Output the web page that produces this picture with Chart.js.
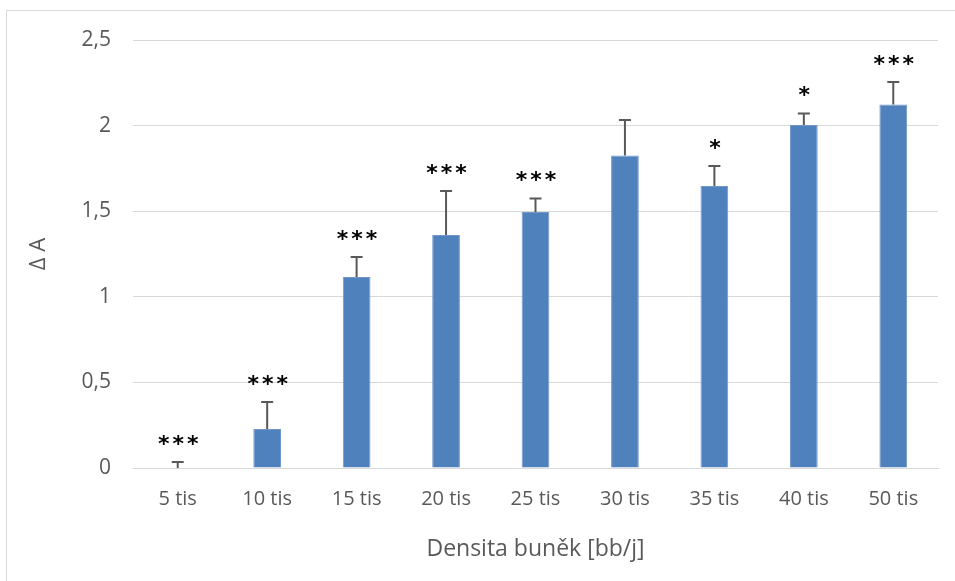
<!DOCTYPE html>
<html>
<head>
<meta charset="utf-8">
<script src="https://cdn.jsdelivr.net/npm/chart.js@4"></script>
<style>
  html, body { margin: 0; padding: 0; background: #fff; overflow: hidden; }
  #wrap { position: relative; width: 955px; height: 581px; }
  #frame { position: absolute; left: 6px; top: 10px; width: 1000px; height: 700px; border: 1px solid #d9d9d9; }
  canvas { position: absolute; left: 0; top: 0; }
</style>
</head>
<body>
<div id="wrap">
  <div id="frame"></div>
  <canvas id="myChart" width="955" height="581"></canvas>
</div>
<script>
const labels = ["5 tis", "10 tis", "15 tis", "20 tis", "25 tis", "30 tis", "35 tis", "40 tis", "50 tis"];
const means = [0.0, 0.228, 1.116, 1.361, 1.495, 1.825, 1.647, 2.003, 2.123];
const errors = [0.035, 0.158, 0.117, 0.257, 0.079, 0.208, 0.117, 0.068, 0.131];
const stars = ["***", "***", "***", "***", "***", "", "*", "*", "***"];
const yTicks = [0, 0.5, 1, 1.5, 2, 2.5];

const FONT = "'Open Sans', sans-serif";

// error bars (upper only) + significance stars
const errorStars = {
  id: "errorStars",
  afterDatasetsDraw(chart) {
    const ctx = chart.ctx;
    const y = chart.scales.y;
    const meta = chart.getDatasetMeta(0);
    ctx.save();
    meta.data.forEach((bar, i) => {
      const top = y.getPixelForValue(means[i] + errors[i]);
      const base = y.getPixelForValue(means[i]);
      ctx.strokeStyle = "#595959";
      ctx.lineWidth = 2;
      ctx.beginPath();
      ctx.moveTo(bar.x, base);
      ctx.lineTo(bar.x, top);
      ctx.moveTo(bar.x - 6, top);
      ctx.lineTo(bar.x + 6, top);
      ctx.stroke();
      if (stars[i]) {
        ctx.fillStyle = "#000";
        ctx.font = "bold 22px 'DejaVu Sans', sans-serif";
        ctx.letterSpacing = "3px";
        ctx.textAlign = "center";
        ctx.textBaseline = "middle";
        ctx.fillText(stars[i], bar.x + 2, top - 17);
      }
    });
    ctx.restore();
  }
};

new Chart(document.getElementById("myChart"), {
  type: "bar",
  data: {
    labels: labels,
    datasets: [{
      data: means,
      backgroundColor: "#4f81bd",
      borderColor: "#7397c9",
      borderWidth: 1,
      barPercentage: 0.31,
      categoryPercentage: 1.0
    }]
  },
  options: {
    responsive: false,
    animation: false,
    layout: { padding: { top: 40, right: 17, left: 0, bottom: 0 } },
    plugins: { legend: { display: false }, tooltip: { enabled: false } },
    scales: {
      x: {
        grid: { display: false, drawTicks: false },
        border: { color: "#d9d9d9", width: 1 },
        ticks: { color: "#595959", font: { family: FONT, size: 20 }, padding: 19, maxRotation: 0 },
        title: { display: true, text: "Densita buněk [bb/j]", color: "#595959", font: { family: FONT, size: 23 }, padding: { top: 6, bottom: 18 } },
        afterFit(scale) { scale.height = 113; }
      },
      y: {
        min: 0,
        max: 2.5,
        afterBuildTicks(scale) { scale.ticks = yTicks.map(v => ({ value: v })); },
        grid: { color: "#d9d9d9", lineWidth: 1, drawTicks: false },
        border: { display: false },
        ticks: {
          color: "#595959",
          font: { family: FONT, size: 21 },
          padding: 22,
          callback: v => String(v).replace(".", ",")
        },
        title: { display: true, text: "Δ A", color: "#595959", font: { family: FONT, size: 22 }, padding: { top: 26, bottom: 4 } },
        afterFit(scale) { scale.width = 133; }
      }
    }
  },
  plugins: [errorStars]
});
</script>
</body>
</html>
